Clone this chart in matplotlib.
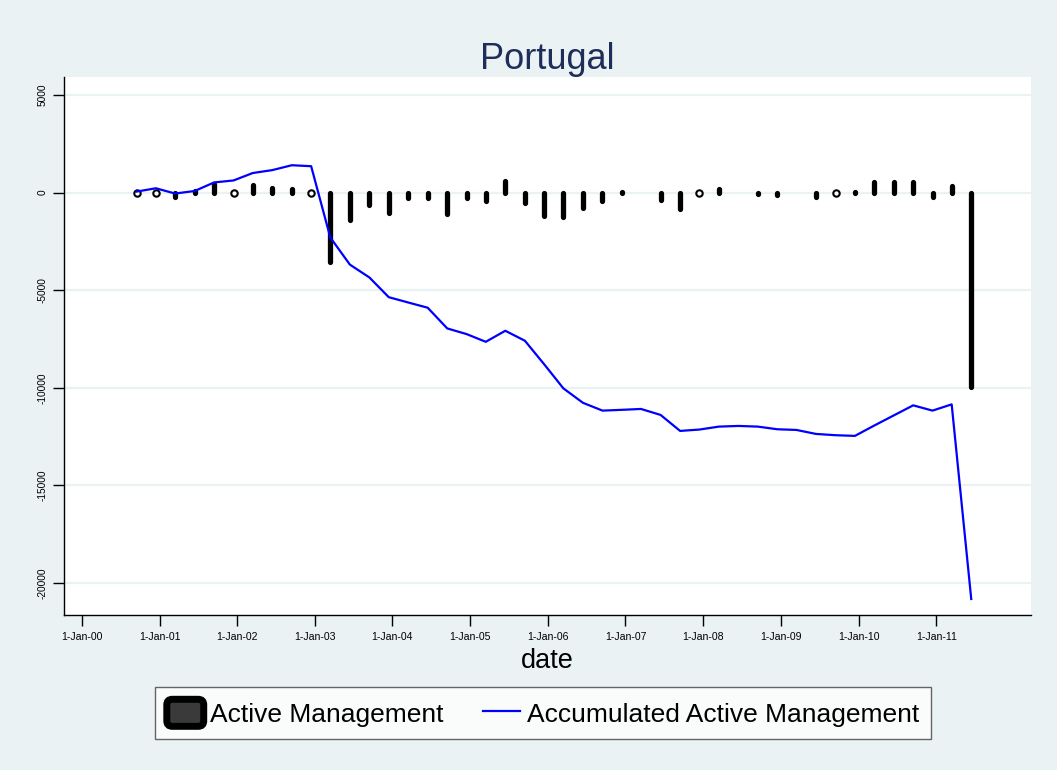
import numpy as np
import pandas as pd
import matplotlib
matplotlib.use("Agg")
import matplotlib.pyplot as plt
import matplotlib.patches as mpatches
from matplotlib.lines import Line2D
from matplotlib.legend_handler import HandlerPatch

plt.rcParams['font.family'] = ['Liberation Sans', 'DejaVu Sans']

# quarterly observations, Q3 2000 .. Q2 2011
dates = pd.date_range('2000-09-15', periods=44, freq=pd.DateOffset(months=3))

# active management per quarter (nan = no observation)
active = [0, 0, -250, 100, 450, 0, 400, 220, 200, 0,
          -3550, -1430, -650, -1040, -300, -300, -1100, -300, -450, 600,
          -510, -1210, -1260, -780, -450, 50, np.nan, -360, -840, 0,
          200, np.nan, -50, -150, np.nan, -250, 0, 50, 550, 540,
          550, -250, 340, -9950]

# accumulated active management
accum = [50, 220, -50, 80, 520, 620, 1000, 1150, 1400, 1350,
         -2300, -3690, -4350, -5360, -5630, -5900, -6960, -7250, -7645, -7080,
         -7590, -8800, -10030, -10770, -11170, -11130, -11085, -11390, -12210, -12140,
         -11990, -11955, -11990, -12125, -12160, -12365, -12430, -12465, -11940, -11420,
         -10900, -11170, -10850, -20820]

ytick_vals = [-20000, -15000, -10000, -5000, 0, 5000]
xtick_years = list(range(2000, 2012))

bg = '#EAF2F3'
fig = plt.figure(figsize=(10.57, 7.70), dpi=100, facecolor=bg)
ax = fig.add_axes([0.0606, 0.2013, 0.9148, 0.6987])
ax.set_facecolor('white')

act = np.array(active, dtype=float)
d = np.array(dates.to_pydatetime())
nz = ~np.isnan(act) & (act != 0)
zr = ~np.isnan(act) & (act == 0)

for y in ytick_vals:
    ax.axhline(y, color=bg, lw=1.6, zorder=0)

bars = ax.vlines(d[nz], 0, act[nz], colors='black', linewidth=3.8, zorder=2)
bars.set_capstyle('round')
ax.plot(d[zr], act[zr], 'o', ms=4.6, mfc='white', mec='black', mew=1.5, zorder=2)

ax.plot(dates, accum, color='#0000FF', lw=1.6, zorder=3)

ax.set_ylim(-21640, 5920)
ax.set_xlim(pd.Timestamp('1999-10-10'), pd.Timestamp('2012-03-22'))

ax.set_yticks(ytick_vals)
ax.set_yticklabels([str(v) for v in ytick_vals], rotation=90, va='center', fontsize=7.3)
xt = [pd.Timestamp(f'{y}-01-01') for y in xtick_years]
ax.set_xticks(xt)
ax.set_xticklabels([f"1-Jan-{str(y)[2:]}" for y in xtick_years], fontsize=7.6)
ax.tick_params(axis='both', length=8, width=1, color='black', direction='out')
ax.tick_params(axis='x', pad=4)
ax.tick_params(axis='y', pad=4)

for s in ['top', 'right']:
    ax.spines[s].set_visible(False)
for s in ['left', 'bottom']:
    ax.spines[s].set_linewidth(1)
    ax.spines[s].set_color('black')

ax.set_title('Portugal', fontsize=26, color='#1E2D5A', pad=5)
fig.text(547 / 1057, (770 - 668) / 770, 'date', fontsize=19.5, ha='center', va='baseline')


def rounded_box(legend, orig_handle, xdescent, ydescent, width, height, fontsize):
    return mpatches.FancyBboxPatch((-xdescent, -ydescent), width, height,
                                   boxstyle='round,pad=0,rounding_size=4')


h1 = mpatches.Patch(facecolor='#3a3a3a', edgecolor='black', linewidth=5)
h2 = Line2D([], [], color='#0000FF', lw=1.6)
leg = fig.legend([h1, h2], ['Active Management', 'Accumulated Active Management'],
                 loc='center', bbox_to_anchor=(543 / 1057, (770 - 713) / 770),
                 ncol=2, fontsize=19, frameon=True, fancybox=False,
                 handlelength=1.4, handleheight=1.2, handletextpad=0.25,
                 columnspacing=1.5, borderpad=0.45, borderaxespad=0,
                 handler_map={mpatches.Patch: HandlerPatch(patch_func=rounded_box)})
leg.get_frame().set_edgecolor('#404040')
leg.get_frame().set_linewidth(1)
leg.get_frame().set_facecolor('white')

fig.savefig('out.png', dpi=100, facecolor=bg)
